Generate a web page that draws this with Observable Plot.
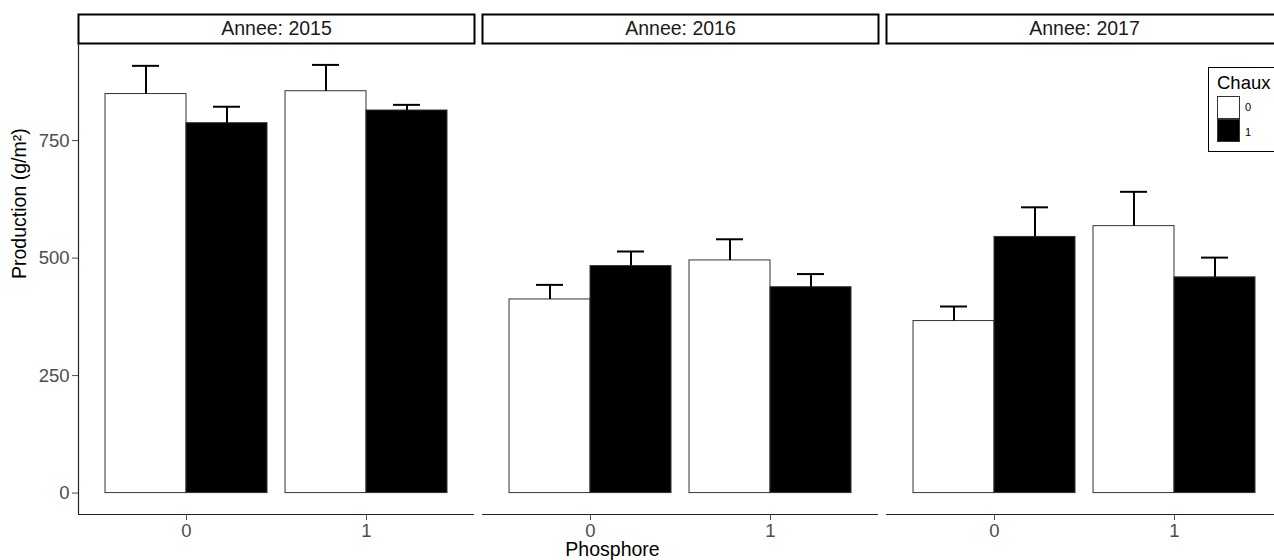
<!DOCTYPE html>
<html>
<head>
<meta charset="utf-8">
<script src="https://cdn.jsdelivr.net/npm/d3@7"></script>
<script src="https://cdn.jsdelivr.net/npm/@observablehq/plot@0.6"></script>
<style>
  html, body { margin: 0; padding: 0; background: #fff; overflow: hidden; }
  #wrap { position: relative; width: 1274px; height: 560px; overflow: hidden; font-family: "Liberation Sans", Arial, sans-serif; }
  #chart { position: absolute; left: 0; top: 0; width: 1282px; }
  #chart svg { max-width: none !important; }
  #legend { position: absolute; left: 1208px; top: 67px; width: 90px; height: 85px; border: 1px solid #000; background: #fff; box-sizing: border-box; }
  #legend .ttl { position: absolute; left: 8px; top: 4px; font-size: 18.5px; line-height: 22px; color: #000; }
  #legend .key { position: absolute; left: 8px; width: 23px; height: 23px; box-sizing: border-box; }
  #legend .lab { position: absolute; left: 36px; font-size: 11px; line-height: 12px; color: #000; }
</style>
</head>
<body>
<div id="wrap">
  <div id="chart"></div>
  <div id="legend"></div>
</div>
<script>
// ---- data ----
const years = ["2015", "2016", "2017"];
const phosphore = ["0", "1"];
const chaux = ["0", "1"];
// mean production, order: (P0,C0), (P0,C1), (P1,C0), (P1,C1)
const mean2015 = [849, 787, 855, 814];
const mean2016 = [412, 483, 495, 438];
const mean2017 = [366, 545, 568, 459];
// standard errors (upper error bar length)
const se2015 = [60, 35, 56, 12];
const se2016 = [31, 31, 45, 28];
const se2017 = [31, 63, 73, 42];
const yTicks = [0, 250, 500, 750];
const chauxColors = ["#FFFFFF", "#000000"];

const means = [mean2015, mean2016, mean2017];
const ses = [se2015, se2016, se2017];
const rows = [];
years.forEach((yr, i) => {
  phosphore.forEach((p, pi) => {
    chaux.forEach((c, ci) => {
      const k = pi * 2 + ci;
      rows.push({Annee: yr, Phosphore: p, Chaux: c, pos: pi + 1, ci, mean: means[i][k], upper: means[i][k] + ses[i][k]});
    });
  });
});

const dodge = 0.45, cap = 0.075;
const ymax = d3.max(rows, d => d.upper);
const yDomain = [-0.05 * ymax, ymax * 1.05];
const xDomain = [0.4, 2.6];
const W = 1282, H = 560, mL = 78, mT = 43, mB = 46;
const frameH = H - mT - mB;
const font = "Liberation Sans, Arial, sans-serif";

const chart = Plot.plot({
  width: W, height: H,
  marginLeft: mL, marginRight: 0, marginTop: mT, marginBottom: mB,
  style: {fontFamily: font, background: "white", maxWidth: "none"},
  fx: {domain: years, paddingInner: 8 / 404, paddingOuter: 0, axis: null, label: null},
  x: {domain: xDomain, axis: null},
  y: {domain: yDomain, axis: null},
  color: {domain: chaux, range: chauxColors},
  marks: [
    // strips
    Plot.frame({stroke: "#000", strokeWidth: 2, fill: "white", insetTop: -29, insetBottom: frameH}),
    Plot.text(years, {fx: d => d, text: d => "Annee: " + d, frameAnchor: "top", dy: -14.5, lineAnchor: "middle", fontSize: 19.5, fill: "#1A1A1A"}),
    // bars
    Plot.rect(rows, {
      fx: "Annee",
      x1: d => d.pos + (d.ci === 0 ? -dodge : 0),
      x2: d => d.pos + (d.ci === 0 ? 0 : dodge),
      y1: 0, y2: "mean",
      fill: "Chaux", stroke: "#333", strokeWidth: 1
    }),
    // error bars
    Plot.ruleX(rows, {fx: "Annee", x: d => d.pos + (d.ci === 0 ? -dodge / 2 : dodge / 2), y1: "mean", y2: "upper", stroke: "#000", strokeWidth: 2}),
    Plot.ruleY(rows, {fx: "Annee", y: "upper", x1: d => d.pos + (d.ci === 0 ? -dodge / 2 : dodge / 2) - cap, x2: d => d.pos + (d.ci === 0 ? -dodge / 2 : dodge / 2) + cap, stroke: "#000", strokeWidth: 2}),
    // axis lines
    Plot.ruleY([yDomain[0]], {stroke: "#222", strokeWidth: 1.2}),
    Plot.ruleX([{Annee: years[0], x: xDomain[0]}], {fx: "Annee", x: "x", stroke: "#222", strokeWidth: 1.2}),
    // axes
    Plot.axisX({ticks: [1, 2], tickFormat: d => phosphore[d - 1], tickSize: 6, tickPadding: 3, fontSize: 18.5, color: "#4D4D4D", label: null}),
    Plot.axisY({anchor: "left", ticks: yTicks, tickSize: 6, tickPadding: 3, fontSize: 18.5, color: "#4D4D4D", label: null}),
    // axis titles
    Plot.text(["Production (g/m²)"], {fx: () => years[0], text: d => d, frameAnchor: "left", dx: -59, rotate: -90, fontSize: 19.5, fill: "#000"}),
    Plot.text(["Phosphore"], {fx: () => years[1], text: d => d, frameAnchor: "bottom", dx: -68, dy: 35.5, lineAnchor: "middle", fontSize: 19.5, fill: "#000"})
  ]
});
document.getElementById("chart").appendChild(chart);

// legend (inside last panel, clipped at the right edge as in the reference)
const leg = document.getElementById("legend");
const t = document.createElement("div");
t.className = "ttl"; t.textContent = "Chaux";
leg.appendChild(t);
chaux.forEach((c, i) => {
  const k = document.createElement("div");
  k.className = "key";
  k.style.top = (28 + i * 23) + "px";
  k.style.background = chauxColors[i];
  k.style.border = "1px solid #333";
  leg.appendChild(k);
  const l = document.createElement("div");
  l.className = "lab";
  l.style.top = (33 + i * 25) + "px";
  l.textContent = c;
  leg.appendChild(l);
});
</script>
</body>
</html>
